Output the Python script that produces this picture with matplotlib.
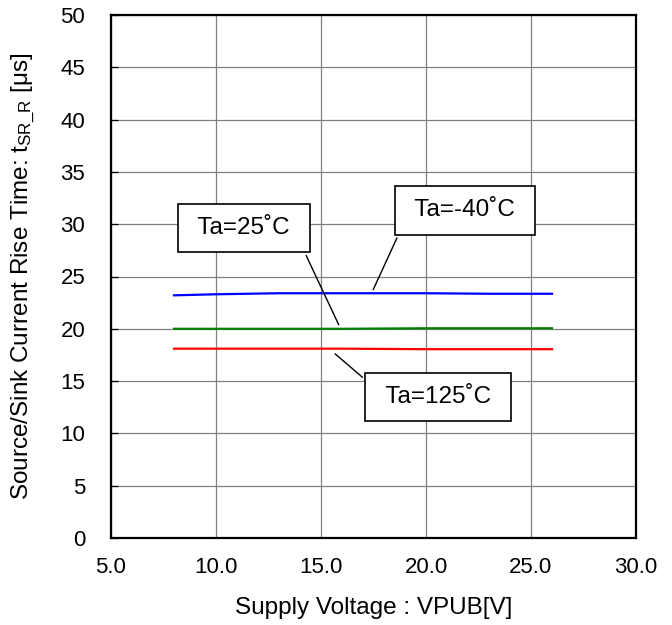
import matplotlib
matplotlib.use("Agg")
import matplotlib.pyplot as plt

plt.rcParams['font.family'] = ['Liberation Sans', 'DejaVu Sans']
plt.rcParams['mathtext.fontset'] = 'custom'
plt.rcParams['mathtext.rm'] = 'Liberation Sans'
plt.rcParams['mathtext.it'] = 'Liberation Sans'

# data
vpub = [8.0, 10.0, 13.0, 16.0, 20.0, 23.0, 26.0]
t_m40 = [23.2, 23.3, 23.4, 23.4, 23.4, 23.35, 23.35]
t_25 = [20.0, 20.0, 20.0, 20.0, 20.05, 20.05, 20.05]
t_125 = [18.1, 18.1, 18.1, 18.1, 18.05, 18.05, 18.05]

xticks = [5, 10, 15, 20, 25, 30]
yticks = [0, 5, 10, 15, 20, 25, 30, 35, 40, 45, 50]

fig = plt.figure(figsize=(6.72, 6.25), dpi=100)
ax = fig.add_axes([111 / 672, 1 - 538 / 625, 525 / 672, 523 / 625])

ax.plot(vpub, t_m40, color='#0000ff', lw=1.6)
ax.plot(vpub, t_25, color='#008000', lw=1.6)
ax.plot(vpub, t_125, color='#ff0000', lw=1.6)

ax.set_xlim(5, 30)
ax.set_ylim(0, 50)
ax.set_xticks(xticks)
ax.set_xticklabels([f"{v:.1f}" for v in xticks])
ax.set_yticks(yticks)
ax.grid(True, color='#808080', lw=0.9)
ax.tick_params(labelsize=16, direction='in', length=5, width=0.9)
ax.tick_params(axis='y', pad=18.5)
ax.tick_params(axis='x', length=0, pad=14)
for s in ax.spines.values():
    s.set_linewidth(1.6)

ax.set_xlabel("Supply Voltage : VPUB[V]", fontsize=17.5)
ax.set_ylabel(r"Source/Sink Current Rise Time: t$_{\mathrm{SR\_R}}$ [μs]", fontsize=17.5)
ax.xaxis.set_label_coords(0.5, -0.113)
ax.yaxis.set_label_coords(-0.14, 0.5)

box = dict(boxstyle='square,pad=0.55', fc='white', ec='black', lw=1.2)
ax.annotate(" Ta=25˚C ", xy=(15.9, 20.15), xytext=(11.33, 29.64), fontsize=17.5,
            ha='center', va='center', bbox=box,
            arrowprops=dict(arrowstyle='-', color='black', lw=1.0, relpos=(0.99, 0.27)))
ax.annotate(" Ta=-40˚C ", xy=(17.43, 23.5), xytext=(21.86, 31.31), fontsize=17.5,
            ha='center', va='center', bbox=box,
            arrowprops=dict(arrowstyle='-', color='black', lw=1.0, relpos=(0.0, 0.37)))
ax.annotate(" Ta=125˚C ", xy=(15.57, 17.78), xytext=(20.57, 13.48), fontsize=17.5,
            ha='center', va='center', bbox=box,
            arrowprops=dict(arrowstyle='-', color='black', lw=1.0, relpos=(0.0, 0.77)))

fig.savefig("out.png", dpi=100)
